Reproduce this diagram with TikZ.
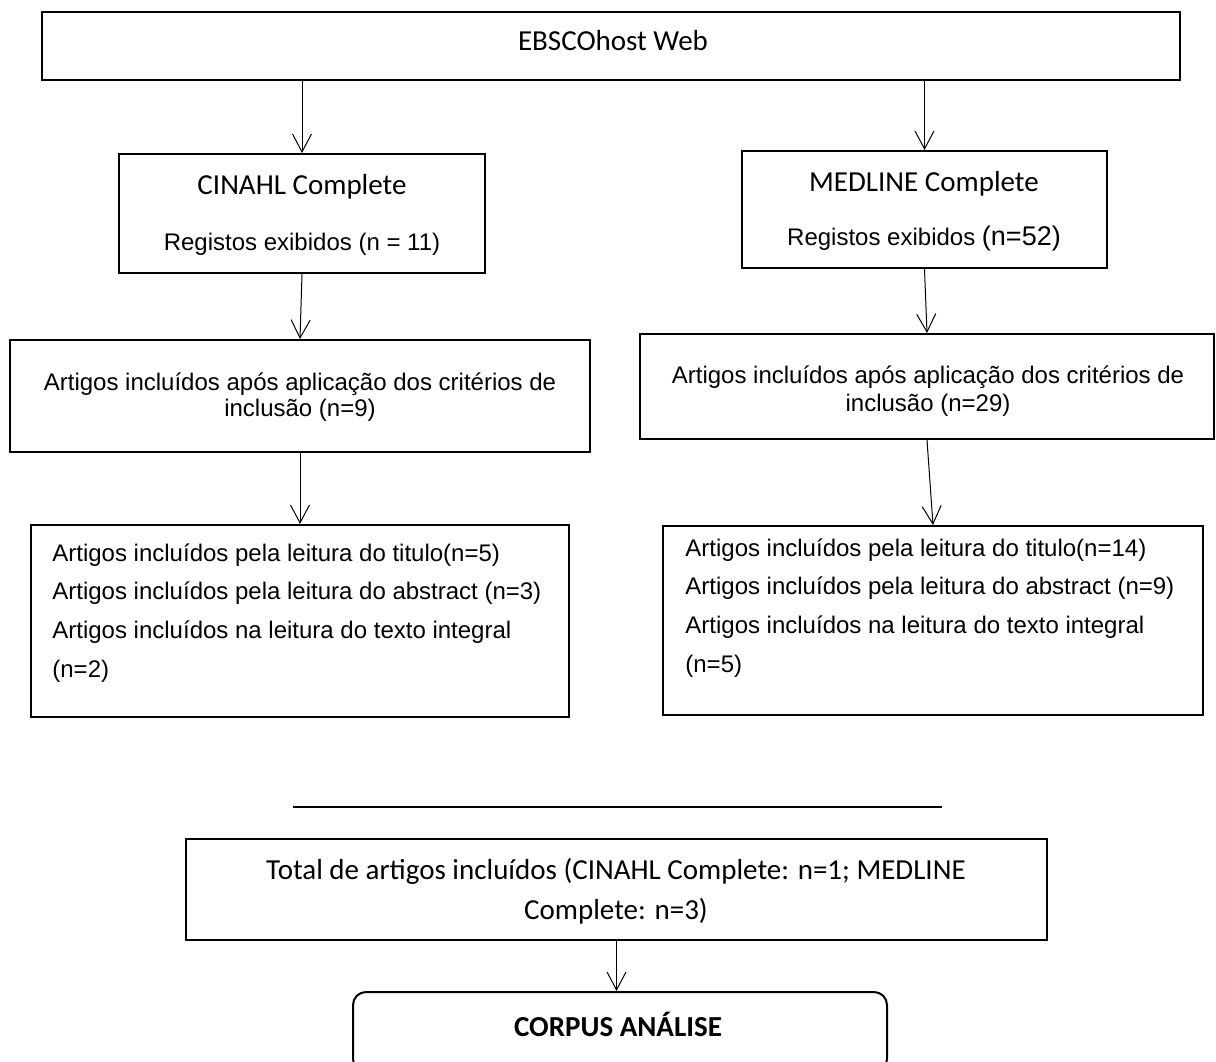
\documentclass[tikz,border=0pt]{standalone}
\usepackage{fontspec}
\usetikzlibrary{arrows.meta}
\newfontfamily\calfont{Carlito}
\newfontfamily\arifont{Liberation Sans}
\tikzset{
  box/.style={draw, line width=1pt, inner sep=0pt, rectangle},
  roundbox/.style={draw, line width=1pt, inner sep=0pt, rectangle, rounded corners=6.5pt},
  arr/.style={line width=0.5pt, -{Straight Barb[length=9pt,width=9.5pt]}},
  caltxt/.style={anchor=base, inner sep=0pt, font=\calfont\fontsize{14.5}{17}\selectfont},
  calbold/.style={anchor=base, inner sep=0pt, font=\calfont\bfseries\fontsize{14.5}{17}\selectfont},
  aritxt/.style={anchor=base, inner sep=0pt, font=\arifont\fontsize{12}{14}\selectfont},
  arileft/.style={anchor=base west, inner sep=0pt, font=\arifont\fontsize{12}{14}\selectfont},
}
\begin{document}
\begin{tikzpicture}[x=0.5pt, y=-0.5pt]
\useasboundingbox[fill=white] (0,0) rectangle (1216,1061);

% boxes
\node[box, minimum width=569pt, minimum height=34pt] (top) at (611,46) {};
\node[box, minimum width=183pt, minimum height=59.5pt] (cinahl) at (302,213.5) {};
\node[box, minimum width=182.5pt, minimum height=58.5pt] (medline) at (924.5,209.5) {};
\node[box, minimum width=290pt, minimum height=56pt] (artL) at (300,396) {};
\node[box, minimum width=287pt, minimum height=52.5pt] (artR) at (927,386.5) {};
\node[box, minimum width=269pt, minimum height=96pt] (botL) at (300,621) {};
\node[box, minimum width=270pt, minimum height=94.5pt] (botR) at (933,620.5) {};
\node[box, minimum width=430.5pt, minimum height=50.5pt] (total) at (616.5,889.5) {};
\node[roundbox, minimum width=267pt, minimum height=40pt] (corpus) at (620,1032) {};

% texts
\node[caltxt] (tTop) at (613,50) {EBSCOhost Web};
\node[caltxt] (tCin1) at (302,194) {CINAHL Complete};
\node[aritxt] (tCin2) at (302,250) {Registos exibidos (n = 11)};
\node[caltxt] (tMed1) at (924,191) {MEDLINE Complete};
\node[aritxt] (tMed2) at (924,245) {Registos exibidos {\fontsize{13.5}{16}\selectfont(n=52)}};
\node[aritxt] (tArtL1) at (300,390) {Artigos incluídos após aplicação dos critérios de};
\node[aritxt] (tArtL2) at (300,416) {inclusão (n=9)};
\node[aritxt] (tArtR1) at (928,383) {Artigos incluídos após aplicação dos critérios de};
\node[aritxt] (tArtR2) at (928,411) {inclusão (n=29)};
\node[arileft] (tBL1) at (52,561) {Artigos incluídos pela leitura do titulo(n=5)};
\node[arileft] (tBL2) at (52,599) {Artigos incluídos pela leitura do abstract (n=3)};
\node[arileft] (tBL3) at (52,638) {Artigos incluídos na leitura do texto integral};
\node[arileft] (tBL4) at (52,677) {(n=2)};
\node[arileft] (tBR1) at (685,556) {Artigos incluídos pela leitura do titulo(n=14)};
\node[arileft] (tBR2) at (685,594) {Artigos incluídos pela leitura do abstract (n=9)};
\node[arileft] (tBR3) at (685,633) {Artigos incluídos na leitura do texto integral};
\node[arileft] (tBR4) at (685,672) {(n=5)};
\node[caltxt] (tTot1) at (616,879) {Total de artigos incluídos (CINAHL Complete: n=1; MEDLINE};
\node[caltxt] (tTot2) at (616,919) {Complete: n=3)};
\node[calbold] (tCorpus) at (618,1036) {CORPUS ANÁLISE};

% connectors
\draw[arr] (top.south -| cinahl.north) -- (cinahl.north);
\draw[arr] (top.south -| medline.north) -- (medline.north);
\draw[arr] (cinahl.south) -- (artL.north);
\draw[arr] (medline.south) -- (artR.north);
\draw[arr] (artL.south) -- (botL.north);
\draw[arr] (artR.south) -- (botR.north);
\draw[arr] (total.south) -- (total.south |- corpus.north);

% separator line
\coordinate (sepA) at (293,807);
\coordinate (sepB) at (942,807);
\draw[line width=0.6pt] (sepA) -- (sepB);
\end{tikzpicture}
\end{document}
